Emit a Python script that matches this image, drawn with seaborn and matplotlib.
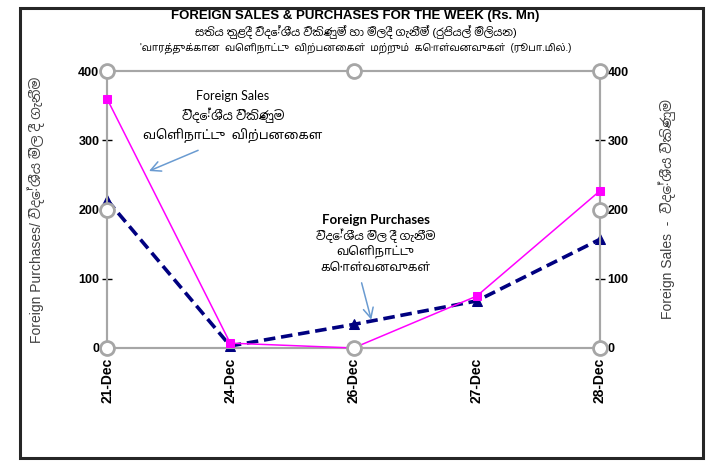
import matplotlib
matplotlib.use("Agg")
import matplotlib.pyplot as plt
import seaborn as sns
import pandas as pd
from matplotlib.patches import Rectangle

dates = ["21-Dec", "24-Dec", "26-Dec", "27-Dec", "28-Dec"]
foreign_sales = [360, 7, 0, 75, 227]
foreign_purchases = [214, 3, 34, 68, 157]
yticks = [0, 100, 200, 300, 400]

title_en = "FOREIGN SALES & PURCHASES FOR THE WEEK (Rs. Mn)"
title_si = "සතිය තුළදී විදේශීය විකිණුම් හා මිලදී ගැනීම් (රුපියල් මිලියන)"
title_ta = "'வாரத்துக்கான  வெளிநாட்டு  விற்பனைகள்  மற்றும்  கொள்வனவுகள்  (ரூபா.மில்.)"
ylabel_left = "Foreign Purchases/ විදේශීය මිල දී ගැනීම"
ylabel_right = "Foreign Sales  -  විදේශීය විකිණුම"
note_sales = "Foreign Sales\nවිදේශීය විකිණුම\nவெளிநாட்டு  விற்பனைகள"
note_purch_title = "Foreign Purchases"
note_purch = "විදේශීය මිල දී ගැනීම\nவெளிநாட்டு\nகொள்வனவுகள்"

sns.set_theme(style="white")
indic = ["Noto Sans Sinhala", "Noto Sans Tamil", "Noto Serif Sinhala", "Noto Serif Tamil",
         "Lohit Tamil", "Iskoola Pota", "Latha", "Nirmala UI", "FreeSans", "FreeSerif"]
fam = ["Liberation Sans"] + indic + ["DejaVu Sans"]
plt.rcParams["font.family"] = fam
plt.rcParams.update({"text.color": "black", "axes.labelcolor": "black",
                     "xtick.color": "black", "ytick.color": "black"})

df = pd.DataFrame({"date": dates, "sales": foreign_sales, "purchases": foreign_purchases})

fig = plt.figure(figsize=(7.11, 4.62), dpi=100)
ax = fig.add_axes([107/711, 1-348/462, 493/711, 277/462])
ax2 = ax.twinx()

sns.lineplot(data=df, x="date", y="purchases", ax=ax, sort=False, color="#000080",
             linewidth=2.6, linestyle=(0, (3.2, 1.6)), marker="^", markersize=7,
             markeredgecolor="#000080", zorder=3, clip_on=False)
sns.lineplot(data=df, x="date", y="sales", ax=ax2, sort=False, color="#FF00FF",
             linewidth=1.1, marker="s", markersize=6, markeredgecolor="#FF00FF", zorder=4,
             clip_on=False)

for a in (ax, ax2):
    a.set_ylim(0, 400)
    a.set_yticks(yticks)
    a.set_xlim(0, len(dates) - 1)
    for s in a.spines.values():
        s.set_color("#A6A6A6")
        s.set_linewidth(1.5)
    a.tick_params(axis="y", direction="inout", length=7, width=1, color="black",
                  labelsize=9, pad=2)
    a.grid(False)
    for lab in a.get_yticklabels():
        lab.set_fontweight("bold")

ax.set_xticks(range(len(dates)))
ax.set_xticklabels(dates, rotation=90, fontweight="bold", fontsize=10)
ax.tick_params(axis="x", direction="inout", length=8, width=1, color="black", pad=3)
ax.set_xlabel("")
ax.set_ylabel(ylabel_left, fontsize=10, color="#404040", labelpad=24)
ax2.set_ylabel(ylabel_right, fontsize=10, color="#404040", labelpad=21)

# selection handles of the plot area
hx = [0, 0, 0, 1, 1, 1, 0.5, 0.5]
hy = [0, 0.5, 1, 0, 0.5, 1, 0, 1]
ax2.plot(hx, hy, "o", transform=ax2.transAxes, clip_on=False, markersize=10,
         markerfacecolor="white", markeredgecolor="#A6A6A6", markeredgewidth=2, zorder=10)

note_fam = ["Lato"] + indic + ["DejaVu Sans"]
# annotations
ax2.annotate("", xy=(0.32, 254), xytext=(0.76, 287),
             arrowprops=dict(arrowstyle="->", color="#6A9BD1", lw=1.1, mutation_scale=18))
ax2.text(1.02, 372, note_sales, ha="center", va="top", fontsize=9,
         linespacing=1.45, family=note_fam)
ax2.annotate("", xy=(2.15, 37), xytext=(2.06, 98),
             arrowprops=dict(arrowstyle="->", color="#6A9BD1", lw=1.1, mutation_scale=18))
ax2.text(2.18, 185, note_purch_title, ha="center", va="center", fontsize=9.5,
         fontweight="bold", family=note_fam)
ax2.text(2.18, 173, note_purch, ha="center", va="top", fontsize=8.5,
         linespacing=1.3, family=note_fam)

# titles
fig.text(0.5, 1-16/462, title_en, ha="center", va="center", fontsize=9.5,
         fontweight="bold", family=fam)
fig.text(0.5, 1-32/462, title_si, ha="center", va="center", fontsize=8, family=fam)
fig.text(0.5, 1-48/462, title_ta, ha="center", va="center", fontsize=7, family=fam)

# chart area border
fig.patches.append(Rectangle((20/711, 4/462), 683/711, 450/462,
                             transform=fig.transFigure, fill=False,
                             edgecolor="#262626", linewidth=2.2, zorder=0))

fig.savefig("out.png", dpi=100)
